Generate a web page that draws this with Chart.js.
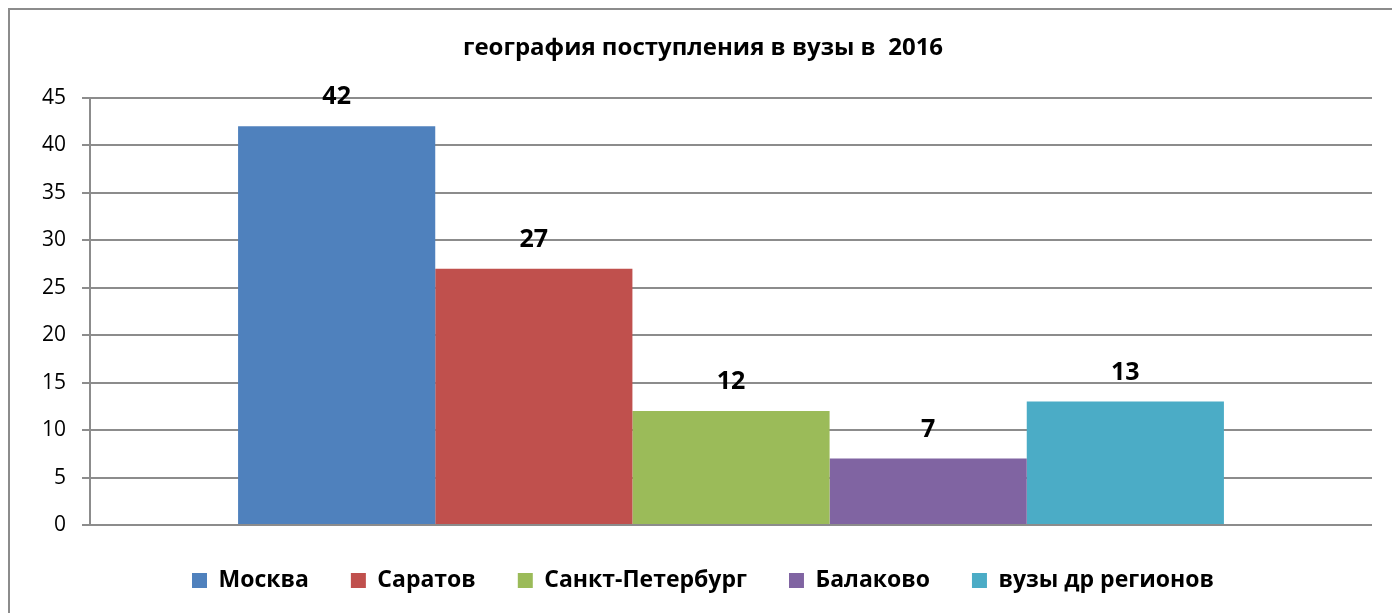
<!DOCTYPE html>
<html>
<head>
<meta charset="utf-8">
<script src="https://cdn.jsdelivr.net/npm/chart.js@4"></script>
<style>
  html, body { margin: 0; padding: 0; background: #fff; overflow: hidden; }
  #frame { position: absolute; left: 8px; top: 8px; width: 1420px; height: 640px; border: 2px solid #8c8c8c; }
  #wrap { position: absolute; left: 0; top: 0; width: 1392px; height: 613px; }
</style>
</head>
<body>
<div id="frame"></div>
<div id="wrap"><canvas id="chart"></canvas></div>
<script>
const titleText = "география поступления в вузы в  2016";
const categories = [""];
const seriesNames = ["Москва", "Саратов", "Санкт-Петербург", "Балаково", "вузы др регионов"];
const seriesValues = [42, 27, 12, 7, 13];
const seriesColors = ["#4f81bd", "#c0504d", "#9bbb59", "#8064a2", "#4bacc6"];
const yTicks = [0, 5, 10, 15, 20, 25, 30, 35, 40, 45];

const fontFamily = "'Open Sans', 'DejaVu Sans', sans-serif";

// draw the value above every bar
const valueLabels = {
    id: "valueLabels",
    afterDatasetsDraw(chart) {
        const ctx = chart.ctx;
        ctx.save();
        ctx.font = "bold 25px " + fontFamily;
        ctx.fillStyle = "#000";
        ctx.textAlign = "center";
        ctx.textBaseline = "middle";
        chart.data.datasets.forEach((ds, i) => {
            const bar = chart.getDatasetMeta(i).data[0];
            ctx.fillText(String(ds.data[0]), bar.x, bar.y - 29);
        });
        ctx.restore();
    }
};

const datasets = seriesNames.map((name, i) => ({
    label: name,
    data: [seriesValues[i]],
    backgroundColor: seriesColors[i],
    barPercentage: 1,
    categoryPercentage: 0.769
}));

new Chart(document.getElementById("chart"), {
    type: "bar",
    plugins: [valueLabels],
    data: { labels: categories, datasets: datasets },
    options: {
        responsive: true,
        maintainAspectRatio: false,
        animation: false,
        layout: { padding: { left: 34, right: 20, top: 0, bottom: 11 } },
        plugins: {
            tooltip: { enabled: false },
            title: {
                display: true,
                text: titleText,
                color: "#000",
                font: { family: fontFamily, size: 24, weight: "bold" },
                padding: { top: 34, bottom: 35 }
            },
            legend: {
                position: "bottom",
                labels: {
                    color: "#000",
                    font: { family: fontFamily, size: 23, weight: "bold" },
                    boxWidth: 15,
                    boxHeight: 15,
                    padding: 42
                }
            }
        },
        scales: {
            x: {
                display: true,
                ticks: { display: false },
                grid: { display: false },
                border: { display: false },
                afterFit: (s) => { s.height = 2; }
            },
            y: {
                min: 0,
                max: 45,
                afterBuildTicks: (s) => { s.ticks = yTicks.map(v => ({ value: v })); },
                afterFit: (s) => { s.width = 56; },
                ticks: {
                    color: "#000",
                    font: { family: fontFamily, size: 21 },
                    padding: 16
                },
                grid: { color: "#8c8c8c", lineWidth: 2, tickLength: 8 },
                border: { display: true, color: "#8c8c8c", width: 2 }
            }
        }
    }
});
</script>
</body>
</html>
